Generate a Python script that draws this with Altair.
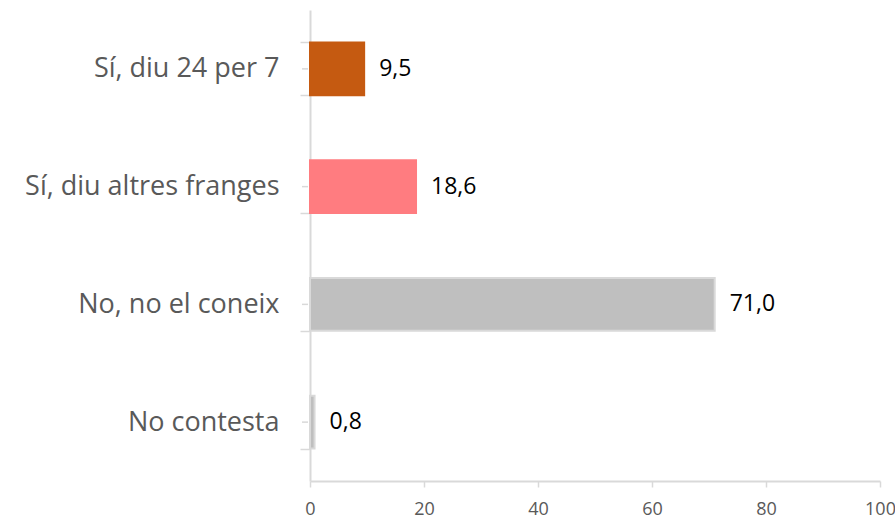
import altair as alt
import pandas as pd

categories = ["Sí, diu 24 per 7", "Sí, diu altres franges", "No, no el coneix", "No contesta"]
values = [9.5, 18.6, 71.0, 0.8]
labels = ["9,5", "18,6", "71,0", "0,8"]
colors = ["#C55A11", "#FF7C80", "#BFBFBF", "#BFBFBF"]
strokes = ["#C55A11", "#FF7C80", "#D9D9D9", "#D9D9D9"]
x_ticks = [0, 20, 40, 60, 80, 100]

df = pd.DataFrame({"cat": categories, "val": values, "lab": labels,
                   "col": colors, "stk": strokes})

FONT = "Open Sans"

y_enc = alt.Y("cat:N", sort=categories, title=None,
              scale=alt.Scale(paddingInner=0.55, paddingOuter=0.275),
              axis=alt.Axis(tickBand="extent", tickSize=10, tickColor="#D9D9D9",
                            tickWidth=1.5, domainColor="#D9D9D9", domainWidth=2,
                            labelFontSize=27, labelColor="#595959", labelFont=FONT,
                            labelPadding=21, labelLimit=0, grid=False))
x_enc = alt.X("val:Q", title=None,
              scale=alt.Scale(domain=[0, 100], nice=False),
              axis=alt.Axis(values=x_ticks, tickSize=6, tickColor="#D9D9D9",
                            tickWidth=1.5, domainColor="#D9D9D9", domainWidth=2,
                            labelFontSize=18, labelColor="#595959", labelFont=FONT,
                            labelPadding=13, labelFlush=False, labelOverlap=False,
                            grid=False))

bars = alt.Chart(df).mark_bar(strokeWidth=2).encode(
    x=x_enc, y=y_enc,
    color=alt.Color("col:N", scale=None),
    stroke=alt.Stroke("stk:N", scale=None),
)

text = alt.Chart(df).mark_text(align="left", baseline="middle", dx=15, fontSize=23,
                               font=FONT, color="#000000").encode(
    x="val:Q", y=alt.Y("cat:N", sort=categories), text="lab:N")

center_ticks = alt.Chart(df).mark_rule(color="#D9D9D9", strokeWidth=1.5).encode(
    y=alt.Y("cat:N", sort=categories), x=alt.value(-8), x2=alt.value(-2))

chart = alt.layer(bars, text, center_ticks).properties(
    width=570, height=471,
    autosize=alt.AutoSizeParams(type="none"),
    padding={"left": 310, "top": 10, "right": 15, "bottom": 40},
).configure_view(stroke=None)

chart.save("out.html", embed_options={"renderer": "svg", "actions": False})
